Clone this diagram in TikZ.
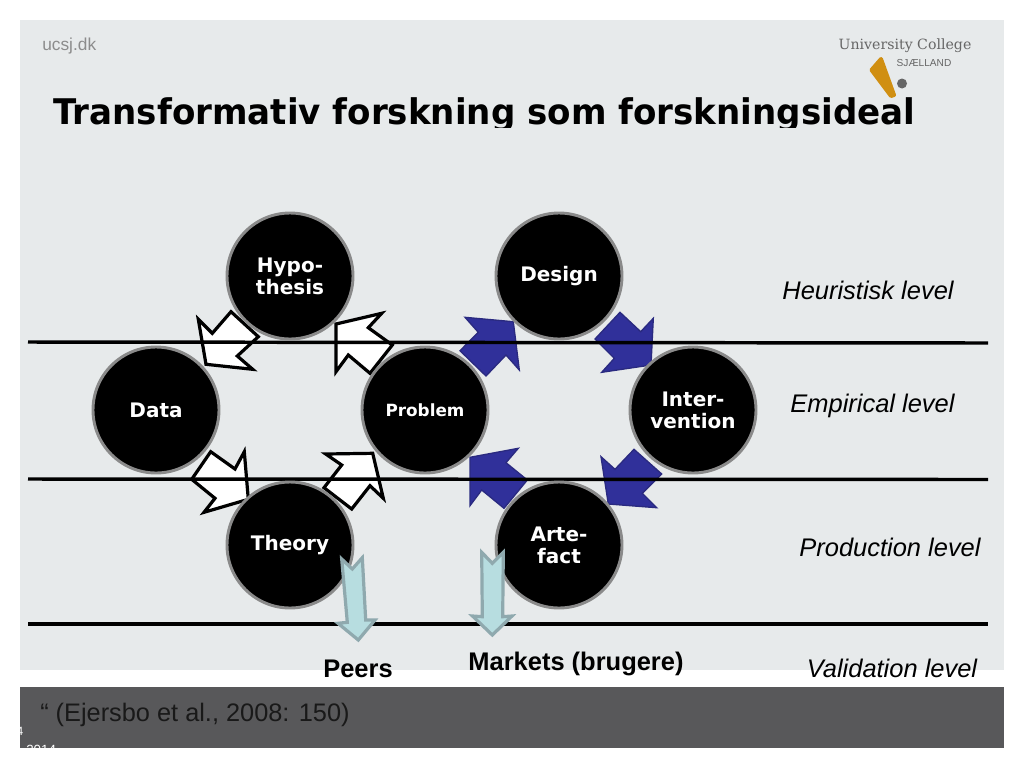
\documentclass[tikz,border=0pt]{standalone}
\usepackage{fontspec}
\setmainfont{Liberation Sans}
\newfontfamily\verd{DejaVu Sans}
\newfontfamily\verdt[FakeStretch=0.965]{DejaVu Sans}
\newfontfamily\serifl{DejaVu Serif}
\definecolor{panel}{HTML}{E7EAEB}
\definecolor{foot}{HTML}{58585A}
\definecolor{ringc}{HTML}{8A8A8A}
\definecolor{bluefill}{HTML}{30309A}
\definecolor{blueline}{HTML}{2A2A80}
\definecolor{tealfill}{HTML}{B7DDE0}
\definecolor{tealline}{HTML}{8FA9AE}
\definecolor{logoor}{HTML}{D08F12}
\definecolor{logog}{HTML}{666666}
\tikzset{
  x=0.75pt,y=-0.75pt,
  disc/.style={circle,fill=black,draw=ringc,line width=2.2pt,minimum size=94.5pt,inner sep=0pt},
  disctext/.style={text=white,align=center,inner sep=0pt,yshift=-0.3pt,font=\verd\bfseries\fontsize{15}{16.3}\selectfont},
  level/.style={line width=2.6pt,black},
  wharrow/.style={fill=white,draw=black,line width=2.4pt,miter limit=10},
  blarrow/.style={fill=bluefill,draw=blueline,line width=1pt,miter limit=10},
  tlarrow/.style={fill=tealfill,draw=tealline,line width=2.4pt,miter limit=10},
  levellabel/.style={anchor=base,inner sep=0pt,font=\itshape\fontsize{19.1}{21}\selectfont},
  market/.style={anchor=base,inner sep=0pt,font=\bfseries\fontsize{19.1}{21}\selectfont},
}
\begin{document}
\begin{tikzpicture}
\useasboundingbox (0,0) rectangle (1024,768);
\fill[white] (0,0) rectangle (1024,768);
\fill[panel] (20,20) rectangle (1004,670);
\fill[foot] (20,687) rectangle (1004,748);
% header
\node[anchor=base west,text=black!45,inner sep=0pt,font=\fontsize{13}{14}\selectfont] (site) at (42,50) {ucsj.dk};
\node[anchor=center,inner sep=0pt,text=logog,font=\serifl\fontsize{10.6}{12}\selectfont] (uc) at (905,46) {University College};
\node[anchor=center,inner sep=0pt,text=logog,font=\fontsize{7.6}{9}\selectfont] (sj) at (924,63) {SJÆLLAND};
\fill[logoor,draw=logoor,line width=3pt,line join=round] (881,59) -- (871.5,70) -- (891,96) -- (894,95) -- cycle;
\fill[logog] (902,83.5) circle (5);
\begin{scope}
\clip (20,60) rectangle (1004,127);
\node[anchor=base west,inner sep=0pt,font=\verdt\bfseries\fontsize{26.5}{30}\selectfont] (title) at (53,124) {Transformativ forskning som forskningsideal};
\end{scope}
% arrows
\draw[wharrow] (198.3,319.3) -- (212.3,333.3) -- (231,311.7) -- (258.3,336.7) -- (237.3,356) -- (252.7,369.3) -- (206,364.3) -- cycle;
\draw[wharrow] (381.7,313.3) -- (368.3,327.7) -- (392.3,345) -- (370,373.3) -- (348.3,355) -- (336,371.7) -- (336,324) -- cycle;
\draw[wharrow] (210.7,451.7) -- (235,469) -- (244.3,451.7) -- (248.3,499.3) -- (204,512.3) -- (215,498.3) -- (191.7,479.3) -- cycle;
\draw[wharrow] (325.7,454) -- (372.7,453.3) -- (383.3,498.3) -- (370,485.7) -- (351.7,509) -- (324,487.7) -- (341.7,465) -- cycle;
\draw[blarrow] (465,317.3) -- (513.3,321.7) -- (519.3,370) -- (506,355) -- (486,376) -- (460,350.7) -- (478.3,332.3) -- cycle;
\draw[blarrow] (620,312.3) -- (640.7,331.7) -- (653.3,318.3) -- (651,365) -- (601.7,372.3) -- (614.3,358.3) -- (595,339) -- cycle;
\draw[blarrow] (518.3,448.3) -- (506,462.7) -- (527.3,480) -- (504,508.3) -- (481.7,490) -- (470,505.7) -- (470,457.3) -- cycle;
\draw[blarrow] (601,456.7) -- (615,469.3) -- (634,449.3) -- (661.7,474) -- (642.3,493.3) -- (656.7,507.7) -- (608.3,504) -- cycle;
% level lines
\coordinate (l1a) at (28,342); \coordinate (l1b) at (988,343);
\coordinate (l2a) at (28,479); \coordinate (l2b) at (988,479.5);
\coordinate (l3a) at (28,624); \coordinate (l3b) at (988,624);
\draw[level] (l1a) -- (l1b);
\draw[level] (l2a) -- (l2b);
\draw[level] (l3a) -- (l3b);
% circles
\node[disc] (hypo) at (290,276) {};
\node[disc] (design) at (559,276) {};
\node[disc] (data) at (156,410) {};
\node[disc] (problem) at (425,410) {};
\node[disc] (inter) at (693,410) {};
\node[disc] (theory) at (290,545) {};
\node[disc] (arte) at (559,545) {};
\node[disctext] (hypot) at (hypo) {Hypo-\\thesis};
\node[disctext] (designt) at (design) {Design};
\node[disctext] (datat) at (data) {Data};
\node[disctext,font=\verd\bfseries\fontsize{12.6}{15}\selectfont] (problemt) at (problem) {Problem};
\node[disctext] (intert) at (inter) {Inter-\\vention};
\node[disctext] (theoryt) at (theory) {Theory};
\node[disctext] (artet) at (arte) {Arte-\\fact};
% output arrows
\draw[tlarrow] (341.7,559) -- (352.3,569) -- (362.3,557.7) -- (365.7,620) -- (375,620) -- (358.3,640) -- (338,623.3) -- (347.3,622.3) -- cycle;
\draw[tlarrow] (481.7,552.3) -- (492.3,563.3) -- (503.3,552.3) -- (502.7,616.7) -- (512,616) -- (492.3,635) -- (472.5,616) -- (482.3,616.7) -- cycle;
% labels
\node[levellabel] (heur) at (868,299) {Heuristisk level};
\node[levellabel] (emp) at (872.5,412) {Empirical level};
\node[levellabel] (prod) at (890,556) {Production level};
\node[levellabel] (val) at (892,677) {Validation level};
\node[market] (peers) at (358,677) {Peers};
\node[market] (mark) at (576,670) {Markets (brugere)};
\node[anchor=base west,inner sep=0pt,text=black!90,font=\fontsize{19}{21}\selectfont] (cite) at (40,721) {“ (Ejersbo et al., 2008: 150)};
\node[anchor=center,inner sep=0pt,text=white,font=\fontsize{9}{10}\selectfont] (pg) at (20,731) {4};
\node[anchor=base west,inner sep=0pt,text=white,font=\fontsize{10}{12}\selectfont] (yr) at (26,754) {2014};
\end{tikzpicture}
\end{document}
